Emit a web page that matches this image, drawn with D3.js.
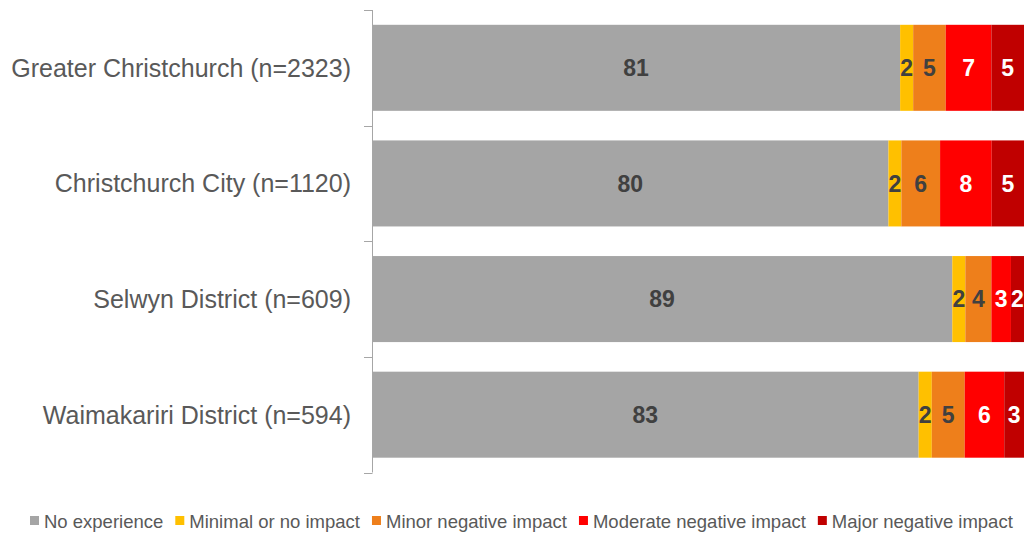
<!DOCTYPE html>
<html>
<head>
<meta charset="utf-8">
<script src="https://cdn.jsdelivr.net/npm/d3@7"></script>
<style>
  html, body { margin: 0; padding: 0; background: #fff; }
  svg { display: block; }
</style>
</head>
<body>
<svg id="chart" width="1026" height="534"></svg>
<script>
// Areas and sample sizes
const categories = [
  "Greater Christchurch (n=2323)",
  "Christchurch City (n=1120)",
  "Selwyn District (n=609)",
  "Waimakariri District (n=594)"
];

// Impact levels (stack order, left to right)
const seriesNames = [
  "No experience",
  "Minimal or no impact",
  "Minor negative impact",
  "Moderate negative impact",
  "Major negative impact"
];

// Percentages per area, one array per impact level
const noExperience = [81, 80, 89, 83];
const minimalImpact = [2, 2, 2, 2];
const minorImpact = [5, 6, 4, 5];
const moderateImpact = [7, 8, 3, 6];
const majorImpact = [5, 5, 2, 3];

const seriesValues = [noExperience, minimalImpact, minorImpact, moderateImpact, majorImpact];
const colors = ["#A5A5A5", "#FFC000", "#EE7F1B", "#FF0000", "#C00000"];
const labelColors = ["#404040", "#404040", "#404040", "#FFFFFF", "#FFFFFF"];

// Build rows; each row is shown as a 100% stacked bar
const rows = categories.map((c, i) => {
  const r = { category: c };
  seriesNames.forEach((s, j) => { r[s] = seriesValues[j][i]; });
  return r;
});

const stack = d3.stack().keys(seriesNames).offset(d3.stackOffsetExpand);
const layers = stack(rows);

const svg = d3.select("#chart");
const x = d3.scaleLinear().domain([0, 1]).range([372, 1024]);
const y = d3.scaleBand().domain(categories).range([10, 472.5])
  .paddingInner(0.256).paddingOuter(0.128);

// Bars
const g = svg.append("g");
layers.forEach((layer, j) => {
  g.selectAll(null).data(layer).enter().append("rect")
    .attr("x", d => x(d[0]))
    .attr("y", d => y(d.data.category))
    .attr("width", d => x(d[1]) - x(d[0]))
    .attr("height", y.bandwidth())
    .attr("fill", colors[j]);
});

// Value labels
layers.forEach((layer, j) => {
  g.selectAll(null).data(layer).enter().append("text")
    .attr("x", d => (x(d[0]) + x(d[1])) / 2)
    .attr("y", d => y(d.data.category) + y.bandwidth() / 2)
    .attr("text-anchor", "middle")
    .attr("dy", "0.36em")
    .attr("font-family", "Liberation Sans, Arial, sans-serif")
    .attr("font-weight", "bold")
    .attr("font-size", 23)
    .attr("fill", labelColors[j])
    .text(d => d.data[layer.key]);
});

// Category axis: vertical line with ticks at band boundaries
const axisColor = "#A6A6A6";
const axisTop = y.range()[0], axisBottom = y.range()[1];
svg.append("line")
  .attr("x1", x(0) + 0.5).attr("x2", x(0) + 0.5)
  .attr("y1", axisTop).attr("y2", axisBottom)
  .attr("stroke", axisColor).attr("stroke-width", 1);
d3.range(categories.length + 1).forEach(i => {
  const ty = Math.round(axisTop + i * y.step()) + 0.5;
  svg.append("line")
    .attr("x1", x(0) - 8).attr("x2", x(0) + 0.5)
    .attr("y1", ty).attr("y2", ty)
    .attr("stroke", axisColor).attr("stroke-width", 1);
});

// Category labels
svg.selectAll(null).data(categories).enter().append("text")
  .attr("x", 351)
  .attr("y", d => y(d) + y.bandwidth() / 2)
  .attr("dy", "0.36em")
  .attr("text-anchor", "end")
  .attr("font-family", "Liberation Sans, Arial, sans-serif")
  .attr("font-size", 25)
  .attr("fill", "#595959")
  .text(d => d);

// Legend
const legend = svg.append("g");
let lx = 30;
const ly = 521;
seriesNames.forEach((s, j) => {
  legend.append("rect")
    .attr("x", lx).attr("y", ly - 5)
    .attr("width", 9).attr("height", 9)
    .attr("fill", colors[j]);
  const t = legend.append("text")
    .attr("x", lx + 14)
    .attr("y", ly)
    .attr("dy", "0.36em")
    .attr("font-family", "Liberation Sans, Arial, sans-serif")
    .attr("font-size", 18.5)
    .attr("fill", "#595959")
    .text(s);
  lx += 14 + t.node().getComputedTextLength() + 12;
});
</script>
</body>
</html>
